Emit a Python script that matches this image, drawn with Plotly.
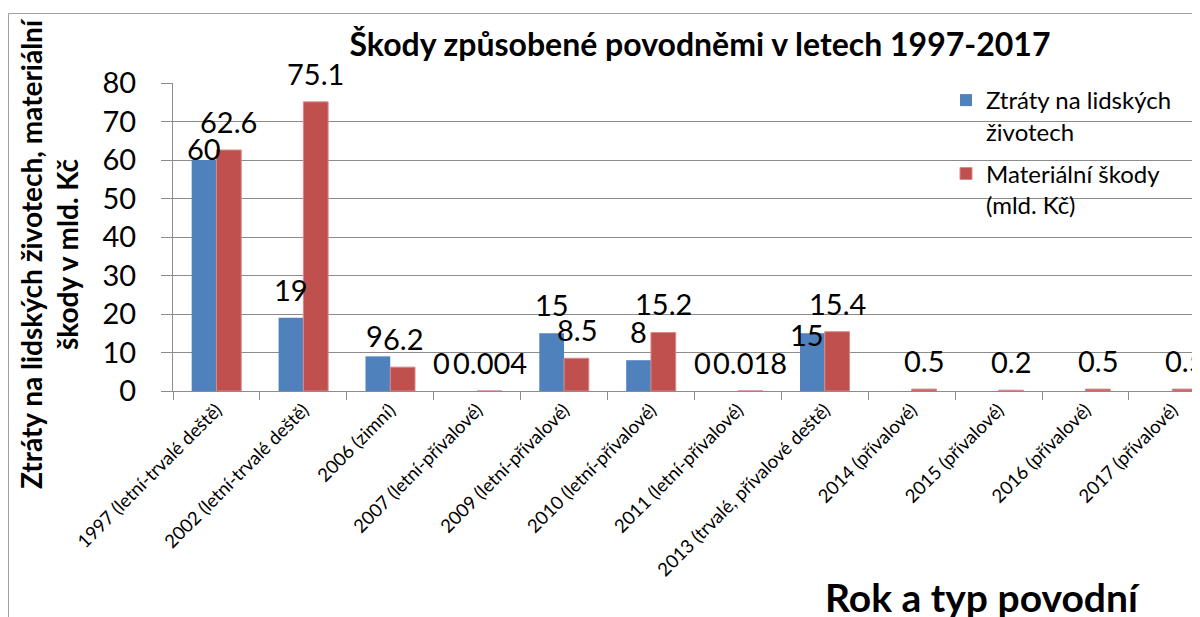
import plotly.graph_objects as go

# ── Data ──────────────────────────────────────────────────────────────────────
CATEGORIES = [
    "1997 (letní-trvalé deště)",
    "2002 (letní-trvalé deště)",
    "2006 (zimní)",
    "2007 (letní-přívalové)",
    "2009 (letní-přívalové)",
    "2010 (letní-přívalové)",
    "2011 (letní-přívalové)",
    "2013 (trvalé, přívalové deště)",
    "2014 (přívalové)",
    "2015 (přívalové)",
    "2016 (přívalové)",
    "2017 (přívalové)",
]
LIVES_LOST = [60, 19, 9, 0, 15, 8, 0, 15, None, None, None, None]
DAMAGE_BN_CZK = [62.6, 75.1, 6.2, 0.004, 8.5, 15.2, 0.018, 15.4, 0.5, 0.2, 0.5, 0.5]

# ── Style ─────────────────────────────────────────────────────────────────────
BLUE = "#4F81BD"
RED = "#C0504D"
GRID = "#8C8C8C"
FONT = "Lato, 'Open Sans', sans-serif"

OFF = 8                      # browser body margin
W, H = 1200, 617
L, T = 173 - OFF, 83 - OFF   # plot area in figure pixels
B = H - (391 - OFF)
R = 0
PW, PH = W - L - R, H - T - B

BAR_HALF = 12.5              # half width of one bar, px
LABEL_GAP = 9                # px between bar top and label box
# hand nudges of single labels (series, category index) -> (dx, dy) px
LABEL_NUDGE = {
    ("lives", 0): (0, -17),
    ("lives", 2): (-3, -8),
    ("lives", 7): (-5, -30),
}


def px_x(sx):
    return (sx - OFF - L) / PW


def px_y(sy):
    return (H - B - (sy - OFF)) / PH


fig = go.Figure()
fig.add_trace(go.Bar(
    x=CATEGORIES, y=LIVES_LOST,
    name="Ztráty na lidských<br>životech", legendgroup="lives",
    marker=dict(color=BLUE, line=dict(width=0)),
))
fig.add_trace(go.Bar(
    x=CATEGORIES, y=DAMAGE_BN_CZK,
    name="Materiální škody<br>(mld. Kč)", legendgroup="damage",
    marker=dict(color=RED, line=dict(color="#D98A88", width=1)),
))

# data labels
labels = []
for key, values, side in (("lives", LIVES_LOST, -1), ("damage", DAMAGE_BN_CZK, 1)):
    for i, v in enumerate(values):
        if v is None:
            continue
        dx, dy = LABEL_NUDGE.get((key, i), (0, 0))
        if key == "lives" and v == 0:
            dx -= 23
        labels.append(dict(
            x=CATEGORIES[i], y=v, xref="x", yref="y",
            text=f"{v:g}", showarrow=False,
            xanchor="center", yanchor="bottom",
            xshift=side * BAR_HALF + dx, yshift=LABEL_GAP + dy,
            font=dict(size=29, color="#000", family=FONT),
        ))

fig.update_layout(
    width=W, height=H,
    paper_bgcolor="white", plot_bgcolor="white",
    font=dict(family=FONT, color="#000"),
    margin=dict(l=L, r=R, t=T, b=B, pad=0),
    barmode="group", bargap=0.43, bargroupgap=0,
    title=dict(
        text="<b>Škody způsobené povodněmi v letech 1997-2017</b>",
        font=dict(size=32, color="#000", family=FONT),
        x=(700 - OFF) / W, xanchor="center",
        y=1 - (45 - OFF) / H, yanchor="middle",
    ),
    legend=dict(
        x=px_x(946), y=px_y(78), xanchor="left", yanchor="top",
        bgcolor="rgba(0,0,0,0)", borderwidth=0,
        font=dict(size=24, color="#000", family=FONT),
        valign="top", tracegroupgap=8,
    ),
    xaxis=dict(
        type="category", range=[-0.5, 11.41],
        showline=True, linecolor=GRID, linewidth=1,
        ticks="outside", ticklen=8, tickcolor=GRID, tickson="boundaries",
        tickangle=-45, tickfont=dict(size=18.5, color="#000", family=FONT),
        showgrid=False,
    ),
    yaxis=dict(
        range=[0, 80], dtick=10,
        showline=True, linecolor=GRID, linewidth=1,
        ticks="outside", ticklen=11, tickcolor=GRID,
        showgrid=True, gridcolor=GRID, gridwidth=1,
        zeroline=False,
        tickfont=dict(size=29, color="#000", family=FONT),
        ticklabelstandoff=19,
    ),
    annotations=labels + [
        dict(
            text="<b>Ztráty na lidských životech, materiální<br>škody v mld. Kč</b>",
            textangle=-90, x=px_x(49), y=px_y(254),
            xref="paper", yref="paper", showarrow=False,
            xanchor="center", yanchor="middle",
            font=dict(size=28, color="#000", family=FONT),
        ),
        dict(
            text="<b>Rok a typ povodní</b>",
            x=px_x(982), y=px_y(597),
            xref="paper", yref="paper", showarrow=False,
            xanchor="center", yanchor="middle",
            font=dict(size=39, color="#000", family=FONT),
        ),
    ],
    shapes=[
        dict(type="rect", xref="paper", yref="paper",
             x0=px_x(8.5), x1=px_x(1260), y0=px_y(700), y1=px_y(13.5),
             line=dict(color="#A0A0A0", width=1), fillcolor="rgba(0,0,0,0)",
             layer="below"),
    ],
)

fig.write_html("out.html")
